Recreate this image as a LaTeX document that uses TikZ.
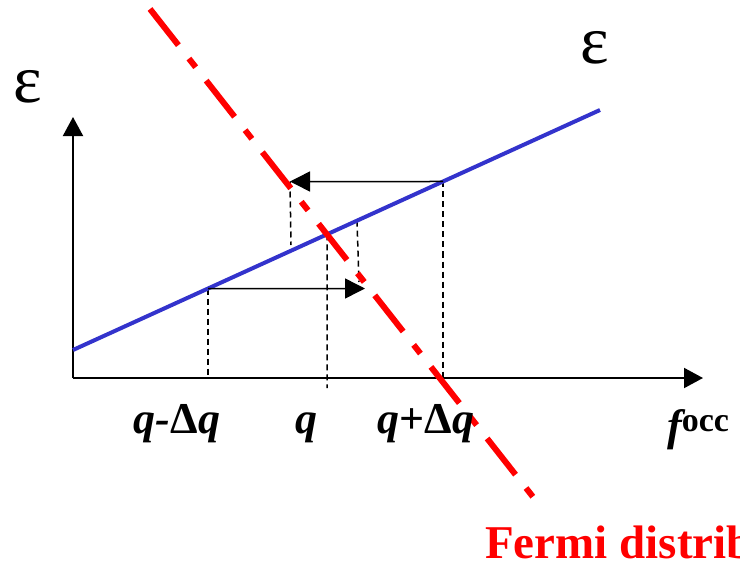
\documentclass[tikz,border=0pt]{standalone}
\usepackage{fontspec}
\setmainfont{Liberation Serif}
\usetikzlibrary{positioning,arrows.meta,calc}
\definecolor{bandblue}{RGB}{51,51,204}
\begin{document}
\begin{tikzpicture}[x=1pt,y=-1pt,
  axis/.style={line width=2pt, -{Triangle[length=19pt,width=20pt]}},
  hop/.style={line width=1.5pt, -{Triangle[length=20pt,width=20pt]}},
  guide/.style={line width=1.5pt, dash pattern=on 6pt off 4pt},
  band/.style={line width=4pt, bandblue},
  fermi/.style={line width=6pt, red, dash pattern=on 46pt off 17pt on 11pt off 17pt},
  qlab/.style={font=\fontsize{44}{44}\selectfont\bfseries, anchor=base},
  eps/.style={font=\fontsize{68}{68}\selectfont}
]
\path[use as bounding box, clip] (0,0) rectangle (740,563);
% axes
\coordinate (O) at (73,378);
\coordinate (ytip) at (73,117);
\coordinate (xtip) at (703,378);
\draw[axis] (O) -- (ytip);
\draw[axis] (O) -- (xtip);
% band line and points on it
\coordinate (b1) at (73,350);
\coordinate (b2) at (600,110);
\coordinate (lo) at ($(b1)!0.2562!(b2)$);
\coordinate (mid) at ($(b1)!0.482!(b2)$);
\coordinate (ret) at ($(b1)!0.5389!(b2)$);
\coordinate (hi) at ($(b1)!0.7021!(b2)$);
\coordinate (tb) at (290,181.5);
\coordinate (tbot) at (291,245);
\coordinate (bt) at (365,288.5);
\coordinate (rbot) at (359,282);
\coordinate (qbot) at (327,388);
% guides
\draw[guide] (lo) -- (lo |- O);
\draw[guide] (mid) -- (qbot);
\draw[guide] (hi) -- (hi |- O);
\draw[guide] (tb) -- (tbot);
\draw[guide] (ret) -- (rbot);
\draw[band] (b1) -- (b2);
% hops
\draw[hop] (hi) -- (tb);
\draw[hop] (lo) -- (bt);
% Fermi line
\coordinate (r1) at (150,9);
\coordinate (r2) at (537,502);
\draw[fermi] (r1) -- (r2);
% labels
\node[eps] (epsy) at (28,86.5) {ε};
\node[eps] (epsb) at (595,47.5) {ε};
\node[qlab] (qm) at (177,433) {\itshape q-{\upshape Δ}q};
\node[qlab] (q) at (306,433) {\itshape q};
\node[qlab] (qp) at (426,433) {\itshape q{\upshape +Δ}q};
\node[qlab, anchor=base west, inner sep=0pt] (focc) at (667,440) {\itshape f\upshape\raisebox{9pt}{\fontsize{34}{34}\selectfont occ}};
\node[anchor=base west, inner sep=0pt, red, font=\fontsize{47}{47}\selectfont\bfseries] (fermi) at (485,558) {Fermi distrib};
\end{tikzpicture}
\end{document}
